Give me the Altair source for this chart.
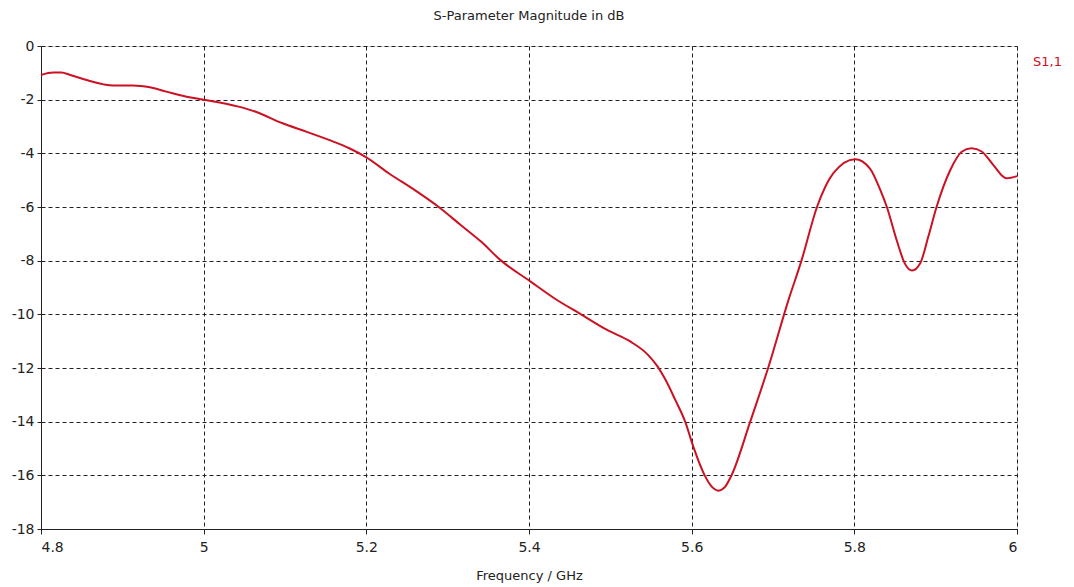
import altair as alt
import pandas as pd

freq = [4.800, 4.815, 4.825, 4.836, 4.856, 4.877, 4.889, 4.913, 4.934, 4.954, 4.979,
        5.000, 5.043, 5.064, 5.097, 5.126, 5.154, 5.179, 5.200, 5.228, 5.261, 5.289,
        5.316, 5.341, 5.365, 5.402, 5.431, 5.464, 5.496, 5.525, 5.546, 5.558, 5.568,
        5.580, 5.592, 5.602, 5.616, 5.625, 5.633, 5.641, 5.649, 5.672, 5.694, 5.719,
        5.735, 5.754, 5.774, 5.801, 5.819, 5.832, 5.840, 5.852, 5.862, 5.871, 5.881,
        5.891, 5.901, 5.918, 5.932, 5.944, 5.957, 5.971, 5.987, 6.000]
s11 = [-1.08, -0.99, -0.99, -1.08, -1.27, -1.43, -1.47, -1.47, -1.54, -1.70, -1.89,
       -2.00, -2.26, -2.45, -2.88, -3.19, -3.50, -3.81, -4.15, -4.75, -5.40, -6.00,
       -6.67, -7.29, -7.98, -8.78, -9.40, -10.00, -10.58, -11.02, -11.50, -11.94, -12.45,
       -13.20, -14.00, -14.93, -16.00, -16.43, -16.57, -16.43, -16.00, -14.00, -12.00, -9.47,
       -8.00, -6.01, -4.75, -4.22, -4.56, -5.37, -6.00, -7.23, -8.10, -8.37, -8.10,
       -7.10, -6.01, -4.62, -3.94, -3.81, -3.94, -4.44, -4.93, -4.85]
x_ticks = [4.8, 5.0, 5.2, 5.4, 5.6, 5.8, 6.0]
y_ticks = [0, -2, -4, -6, -8, -10, -12, -14, -16, -18]
series_name = "S1,1"

df = pd.DataFrame({"f": freq, "db": s11})
FONT = "DejaVu Sans"
RED = "#cc1122"

line = alt.Chart(df).mark_line(color=RED, strokeWidth=2, interpolate="monotone").encode(
    x=alt.X("f:Q", scale=alt.Scale(domain=[4.8, 6.0], nice=False, zero=False),
            axis=alt.Axis(values=x_ticks, title="Frequency / GHz", format="~g",
                          grid=True, gridColor="#222", gridDash=[4, 3], gridWidth=1,
                          domainColor="#222", tickColor="#222", tickSize=5,
                          labelFont=FONT, labelFontSize=14, labelColor="#222",
                          labelPadding=6, titleFont=FONT, titleFontSize=13,
                          titleFontWeight="normal", titleColor="#222", titlePadding=15)),
    y=alt.Y("db:Q", scale=alt.Scale(domain=[-18, 0], nice=False, zero=False),
            axis=alt.Axis(values=y_ticks, title=None, grid=True, gridColor="#222",
                          labelExpr="replace(datum.label, '\u2212', '-')",
                          gridDash=[4, 3], gridWidth=1, domainColor="#222",
                          tickColor="#222", tickSize=4, labelFont=FONT, labelFontSize=14,
                          labelColor="#222", labelPadding=3)),
)

label = alt.Chart(pd.DataFrame({"t": [series_name]})).mark_text(
    color=RED, font=FONT, fontSize=13, align="left", baseline="middle"
).encode(text="t:N", x=alt.value(992), y=alt.value(16))

chart = (line + label).properties(
    width=976, height=483,
    autosize=alt.AutoSizeParams(type="none"),
    padding={"left": 33, "top": 38, "right": 49, "bottom": 56},
    title=alt.TitleParams("S-Parameter Magnitude in dB", font=FONT, fontSize=13,
                          fontWeight="normal", color="#222", offset=16),
).configure_view(stroke="#777", strokeWidth=1.5).configure(background="white")

chart.save("out.html", embed_options={"renderer": "svg", "actions": False})
